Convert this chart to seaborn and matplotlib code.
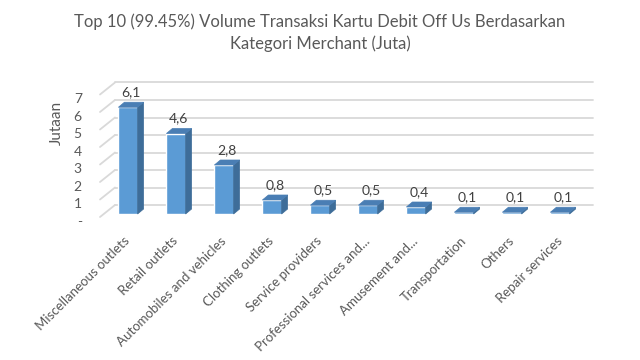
import numpy as np
import pandas as pd
import matplotlib
matplotlib.use("Agg")
import matplotlib.pyplot as plt
from matplotlib.patches import Polygon
from matplotlib.lines import Line2D
from matplotlib.transforms import ScaledTranslation
import seaborn as sns

# data (juta transaksi)
categories = ["Miscellaneous outlets", "Retail outlets", "Automobiles and vehicles",
              "Clothing outlets", "Service providers", "Professional services and...",
              "Amusement and...", "Transportation", "Others", "Repair services"]
values = [6.1, 4.6, 2.8, 0.8, 0.5, 0.5, 0.4, 0.1, 0.1, 0.1]
value_labels = ["6,1", "4,6", "2,8", "0,8", "0,5", "0,5", "0,4", "0,1", "0,1", "0,1"]
y_ticks = [0, 1, 2, 3, 4, 5, 6, 7]
y_ticklabels = ["-", "1", "2", "3", "4", "5", "6", "7"]

title = "Top 10 (99.45%) Volume Transaksi Kartu Debit Off Us Berdasarkan\nKategori Merchant (Juta)"

sns.set_style("white")
plt.rcParams["font.family"] = ["Lato", "DejaVu Sans"]

FRONT = "#5B9BD5"
SIDE = "#3E6D99"
TOP = "#4A7EB4"
GRID = "#D9D9D9"
TXT = "#595959"

df = pd.DataFrame({"kategori": categories, "nilai": values})

fig = plt.figure(figsize=(6.4, 3.6), dpi=100)
ax = fig.add_axes([104 / 640, 146 / 360, 480 / 640, 122.5 / 360])
sns.barplot(data=df, x="kategori", y="nilai", color=FRONT, width=0.4,
            saturation=1, ax=ax, zorder=3)
ax.set_ylim(0, 7)
ax.set_xlim(-0.5, len(categories) - 0.5)
for s in ax.spines.values():
    s.set_visible(False)
ax.set_xlabel("")
ax.set_ylabel("")
fig.canvas.draw()

to_disp = ax.transData.transform
to_data = ax.transData.inverted().transform


def shifted(pts, dx, dy):
    d = to_disp(np.array(pts, dtype=float))
    d[:, 0] += dx
    d[:, 1] += dy
    return d


# dinding belakang: gridlines + garis diagonal lantai kiri
x_left, x_right = ax.get_xlim()
for yv in y_ticks:
    back = to_data(np.vstack([shifted([(x_left, yv)], 11, 9), shifted([(x_right, yv)], 9, 9)]))
    ax.add_line(Line2D(back[:, 0], back[:, 1], color=GRID, lw=1.3, clip_on=False, zorder=1))
    diag = to_data(np.vstack([shifted([(x_left, yv)], -4, -3), shifted([(x_left, yv)], 11, 9)]))
    ax.add_line(Line2D(diag[:, 0], diag[:, 1], color=GRID, lw=1.3, clip_on=False, zorder=1))

# sisi kanan dan atas batang (efek 3D)
dx, dy = 6, 5
for p in ax.patches[:len(values)]:
    x0, x1 = p.get_x(), p.get_x() + p.get_width()
    h = p.get_height()
    side = to_disp(np.array([(x1, 0), (x1, h)]))
    side = np.vstack([side, side[::-1] + [dx, dy]])
    ax.add_patch(Polygon(to_data(side), closed=True, fc=SIDE, ec=SIDE, lw=0.5,
                         clip_on=False, zorder=3))
    top = to_disp(np.array([(x0, h), (x1, h)]))
    top = np.vstack([top, top[::-1] + [dx, dy]])
    ax.add_patch(Polygon(to_data(top), closed=True, fc=TOP, ec=TOP, lw=0.5,
                         clip_on=False, zorder=3))

# label data
for i, (v, lab) in enumerate(zip(values, value_labels)):
    ax.annotate(lab, (i, v), xytext=(2, 6.5), textcoords="offset points",
                ha="center", va="bottom", fontsize=10, color="#404040")

ax.set_yticks(y_ticks)
ax.set_yticklabels(y_ticklabels)
ax.tick_params(axis="y", length=0, pad=16, labelsize=10, labelcolor=TXT)
for t in ax.get_yticklabels():
    t.set_transform(t.get_transform() + ScaledTranslation(0, -5 / 72, fig.dpi_scale_trans))

ax.set_xticks(range(len(categories)))
ax.set_xticklabels(categories, rotation=45, ha="right", va="center",
                   rotation_mode="anchor", fontsize=9.5, color=TXT)
ax.tick_params(axis="x", length=0, pad=18)

ax.set_ylabel("Jutaan", fontsize=11, color=TXT)
ax.yaxis.set_label_coords(-0.083, 0.743)

fig.text(0.5, 0.962, title, ha="center", va="top", fontsize=12, color=TXT,
         linespacing=1.4)

ax.grid(False)
fig.savefig("out.png", dpi=100)
